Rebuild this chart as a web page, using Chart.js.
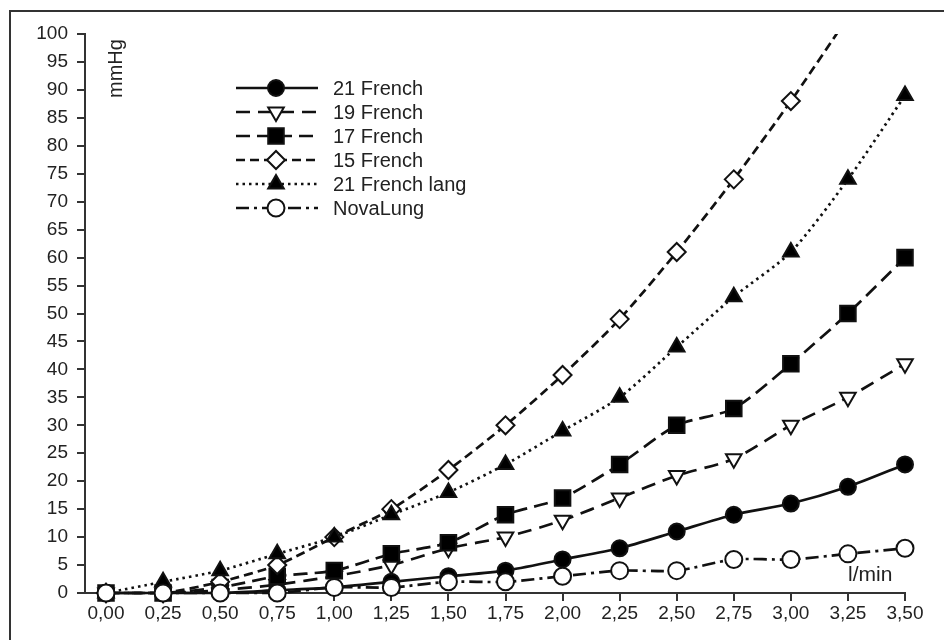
<!DOCTYPE html>
<html>
<head>
<meta charset="utf-8">
<script src="https://cdn.jsdelivr.net/npm/chart.js@4.4.1/dist/chart.umd.min.js"></script>
<style>
  body { margin: 0; background: #fff; }
  #wrap { position: relative; width: 944px; height: 640px; overflow: hidden; font-family: 'Liberation Sans', Arial, sans-serif; }
  #frame { position: absolute; left: 9px; top: 10px; width: 980px; height: 680px; border: 2px solid #333; box-sizing: border-box; }
  #legend { position: absolute; left: 236px; top: 76px; }
  .row { display: flex; align-items: center; height: 24px; }
  .row canvas { width: 82px; height: 24px; }
  .row span { margin-left: 15px; font-size: 20px; color: #222; }
  .lbl { position: absolute; color: #222; }
</style>
</head>
<body>
<div id="wrap">
  <div id="frame"></div>
  <canvas id="druckChart" width="944" height="640"></canvas>
  <div id="legend"></div>
  <div class="lbl" style="left:80px;top:57px;font-size:20px;transform:rotate(-90deg);transform-origin:50% 50%;width:70px;text-align:center;">mmHg</div>
  <div class="lbl" style="left:848px;top:562px;font-size:21px;">l/min</div>
</div>
<script>
// Fluss (l/min) und Druckabfall (mmHg)
const flows = [0, 0.25, 0.5, 0.75, 1.0, 1.25, 1.5, 1.75, 2.0, 2.25, 2.5, 2.75, 3.0, 3.25, 3.5];
const french21 = [0, 0, 0, 0.5, 1, 2, 3, 4, 6, 8, 11, 14, 16, 19, 23];
const french19 = [0, 0, 0.5, 1.5, 3, 5, 8, 10, 13, 17, 21, 24, 30, 35, 41];
const french17 = [0, 0, 1, 3, 4, 7, 9, 14, 17, 23, 30, 33, 41, 50, 60];
const french15 = [0, 0, 2, 5, 10, 15, 22, 30, 39, 49, 61, 74, 88, 103, null];
const french21lang = [0, 2, 4, 7, 10, 14, 18, 23, 29, 35, 44, 53, 61, 74, 89];
const novaLung = [0, 0, 0, 0, 1, 1, 2, 2, 3, 4, 4, 6, 6, 7, 8];
const yTicks = [0, 5, 10, 15, 20, 25, 30, 35, 40, 45, 50, 55, 60, 65, 70, 75, 80, 85, 90, 95, 100];

function pts(arr) {
    return arr.map((v, i) => ({ x: flows[i], y: v }));
}

const datasets = [
    { label: '21 French', data: pts(french21), borderDash: [], pointStyle: 'circle', pointRadius: 8, fill: '#000' },
    { label: '19 French', data: pts(french19), borderDash: [14, 8], pointStyle: 'triangle', pointRadius: 9, rotation: 180, fill: '#fff' },
    { label: '17 French', data: pts(french17), borderDash: [14, 7], pointStyle: 'rect', pointRadius: 11, fill: '#000' },
    { label: '15 French', data: pts(french15), borderDash: [9, 5], pointStyle: 'rectRot', pointRadius: 9, fill: '#fff' },
    { label: '21 French lang', data: pts(french21lang), borderDash: [2.5, 4], pointStyle: 'triangle', pointRadius: 9, fill: '#000' },
    { label: 'NovaLung', data: pts(novaLung), borderDash: [13, 5, 3, 5], pointStyle: 'circle', pointRadius: 8.5, fill: '#fff' }
].map((d, i, all) => ({
    label: d.label,
    data: d.data,
    order: all.length - i, // spätere Serien oben
    borderColor: '#111',
    borderWidth: 2.7,
    borderDash: d.borderDash,
    tension: 0.25,
    pointStyle: d.pointStyle,
    pointRadius: d.pointRadius,
    pointRotation: d.rotation || 0,
    pointBackgroundColor: d.fill,
    pointBorderColor: '#111',
    pointBorderWidth: 2,
    clip: { left: 20, right: 20, top: 0, bottom: 20 },
    spanGaps: false
}));

const ctx = document.getElementById('druckChart').getContext('2d');
const chart = new Chart(ctx, {
    type: 'line',
    data: { datasets: datasets },
    options: {
        responsive: false,
        animation: false,
        layout: { padding: { top: 34, right: 39, left: 0, bottom: 0 } },
        plugins: { legend: { display: false }, tooltip: { enabled: false } },
        scales: {
            x: {
                type: 'linear',
                min: -0.092,
                max: 3.5,
                afterBuildTicks: function(scale) {
                    scale.ticks = flows.map(v => ({ value: v }));
                },
                afterFit: function(scale) { scale.height = 47; },
                grid: { drawOnChartArea: false, drawTicks: true, tickLength: 8, color: '#333', lineWidth: 2 },
                border: { color: '#333', width: 2 },
                ticks: {
                    color: '#222',
                    font: { size: 19, family: "'Liberation Sans', Arial, sans-serif" },
                    padding: 1,
                    maxRotation: 0,
                    autoSkip: false,
                    callback: function(value) { return value.toFixed(2).replace('.', ','); }
                }
            },
            y: {
                min: 0,
                max: 100,
                afterBuildTicks: function(scale) {
                    scale.ticks = yTicks.map(v => ({ value: v }));
                },
                afterFit: function(scale) { scale.width = 85; },
                grid: { drawOnChartArea: false, drawTicks: true, tickLength: 8, color: '#333', lineWidth: 2 },
                border: { color: '#333', width: 2 },
                ticks: {
                    color: '#222',
                    font: { size: 19, family: "'Liberation Sans', Arial, sans-serif" },
                    padding: 9,
                    autoSkip: false
                }
            }
        }
    }
});

// Legende mit Linie und Symbol
const legend = document.getElementById('legend');
datasets.forEach(ds => {
    const row = document.createElement('div');
    row.className = 'row';
    const c = document.createElement('canvas');
    c.width = 82; c.height = 24;
    const g = c.getContext('2d');
    g.strokeStyle = '#111';
    g.lineWidth = 2.7;
    g.setLineDash(ds.borderDash);
    g.beginPath();
    g.moveTo(0, 12);
    g.lineTo(82, 12);
    g.stroke();
    g.setLineDash([]);
    g.fillStyle = ds.pointBackgroundColor;
    g.strokeStyle = '#111';
    g.lineWidth = ds.pointBorderWidth;
    Chart.helpers.drawPoint(g, {
        pointStyle: ds.pointStyle,
        radius: ds.pointRadius,
        rotation: ds.pointRotation,
        borderWidth: ds.pointBorderWidth
    }, 40, 12);
    const s = document.createElement('span');
    s.textContent = ds.label;
    row.appendChild(c);
    row.appendChild(s);
    legend.appendChild(row);
});
</script>
</body>
</html>
